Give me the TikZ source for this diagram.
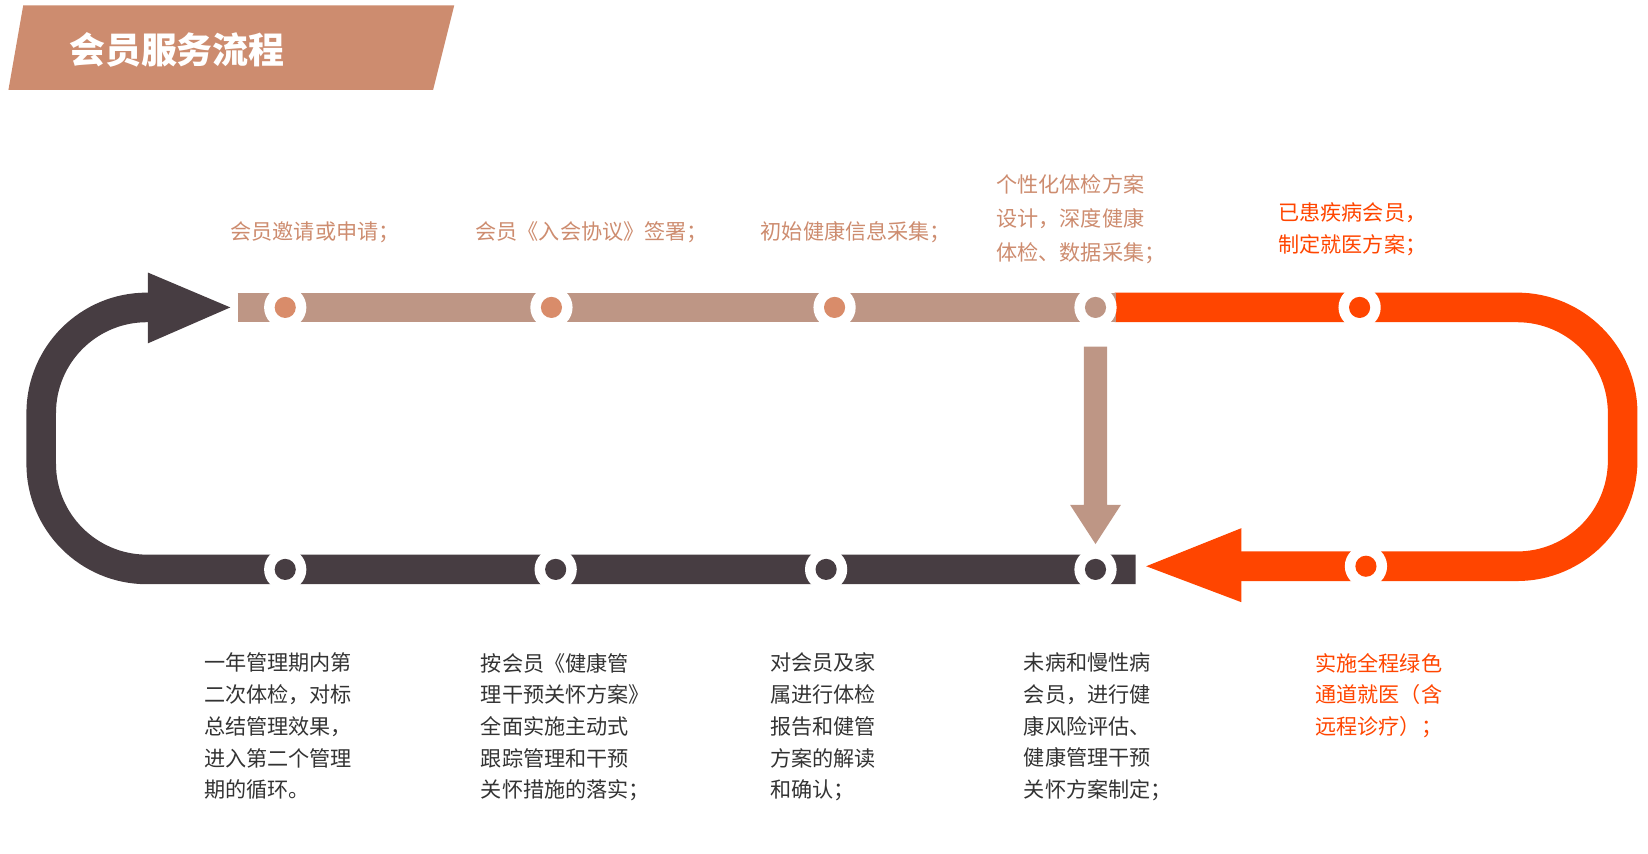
\documentclass[tikz,border=0pt]{standalone}
\usepackage{fontspec}
\setmainfont{Noto Sans CJK SC}
\definecolor{tan}{HTML}{BE9685}
\definecolor{tandot}{HTML}{D98C6A}
\definecolor{titlebg}{HTML}{CD8C6F}
\definecolor{hot}{HTML}{FF4500}
\definecolor{dark}{HTML}{473D42}
\definecolor{txt}{HTML}{333333}
\tikzset{
  band/.style={line width=28pt},
  toptext/.style={anchor=west,text=titlebg,font=\fontsize{20}{32}\selectfont,align=left,inner sep=0pt},
  bottext/.style={anchor=north west,text=txt,font=\fontsize{20}{30}\selectfont,align=left,inner sep=0pt},
}
\newcommand{\stopdot}[2]{%
  \fill[white] #1 circle (20pt);
  \fill[#2] #1 circle (10pt);}
\begin{document}
\begin{tikzpicture}[x=1pt,y=1pt]
\useasboundingbox (0,0) rectangle (1560,-808);
% title
\fill[titlebg] (8,-85) -- (22,-5) -- (430,-5) -- (410,-85) -- cycle;
\node[text=white,font=\fontsize{34}{34}\selectfont\bfseries,anchor=west] (title) at (62,-47) {会员服务流程};
% loops
\draw[band,hot,rounded corners=100pt] (1055,-291) -- (1536,-291) -- (1536,-536) -- (1170,-536);
\fill[hot] (1085,-536) -- (1175,-500) -- (1175,-570) -- cycle;
\draw[band,dark,rounded corners=100pt] (1075,-539) -- (39,-539) -- (39,-291) -- (145,-291);
\fill[dark] (218,-291) -- (140,-258) -- (140,-325) -- cycle;
\draw[band,tan] (225,-291) -- (1056,-291);
% down arrow
\fill[tan] (1026,-328) -- (1048,-328) -- (1048,-478) -- (1061,-478) -- (1037,-515) -- (1013,-478) -- (1026,-478) -- cycle;
% dots
\foreach \x in {270,522,790} {\stopdot{(\x,-291)}{tandot}}
\stopdot{(1037,-291)}{tan}
\stopdot{(1287,-291)}{hot}
\foreach \x in {270,526,782,1037} {\stopdot{(\x,-539)}{dark}}
\stopdot{(1293,-536)}{hot}
% top texts
\node[toptext] (t1) at (218,-220) {会员邀请或申请；};
\node[toptext] (t2) at (450,-220) {会员《入会协议》签署；};
\node[toptext] (t3) at (720,-220) {初始健康信息采集；};
\node[toptext,anchor=north west] (t4) at (943,-165) {个性化体检方案\\设计，深度健康\\体检、数据采集；};
\node[toptext,anchor=north west,text=hot,font=\fontsize{20}{30}\selectfont] (t5) at (1210,-192) {已患疾病会员，\\制定就医方案；};
% bottom texts
\node[bottext] (b1) at (193,-618) {一年管理期内第\\二次体检，对标\\总结管理效果，\\进入第二个管理\\期的循环。};
\node[bottext] (b2) at (455,-618) {按会员《健康管\\理干预关怀方案》\\全面实施主动式\\跟踪管理和干预\\关怀措施的落实；};
\node[bottext] (b3) at (729,-618) {对会员及家\\属进行体检\\报告和健管\\方案的解读\\和确认；};
\node[bottext] (b4) at (969,-618) {未病和慢性病\\会员，进行健\\康风险评估、\\健康管理干预\\关怀方案制定；};
\node[bottext,text=hot] (b5) at (1245,-618) {实施全程绿色\\通道就医（含\\远程诊疗）；};
\end{tikzpicture}
\end{document}
